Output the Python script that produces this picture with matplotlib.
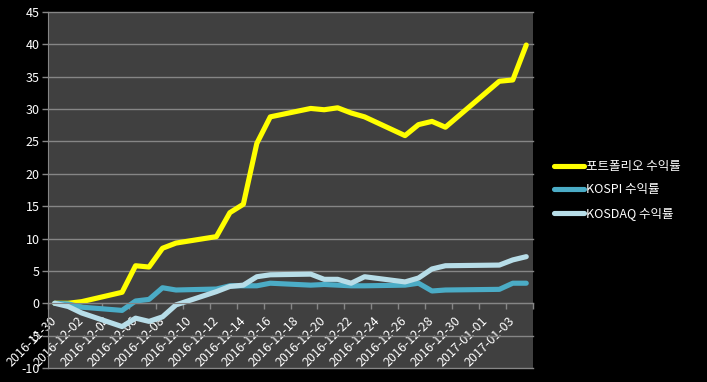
import numpy as np
import matplotlib
matplotlib.use('Agg')
import matplotlib.pyplot as plt
from datetime import datetime, timedelta

plt.rcParams['font.family'] = ['Noto Sans CJK KR', 'DejaVu Sans']
plt.rcParams['axes.unicode_minus'] = False

# 데이터
dates = ['2016-11-30', '2016-12-01', '2016-12-02', '2016-12-05', '2016-12-06',
         '2016-12-07', '2016-12-08', '2016-12-09', '2016-12-12', '2016-12-13',
         '2016-12-14', '2016-12-15', '2016-12-16', '2016-12-19', '2016-12-20',
         '2016-12-21', '2016-12-22', '2016-12-23', '2016-12-26', '2016-12-27',
         '2016-12-28', '2016-12-29', '2017-01-02', '2017-01-03', '2017-01-04']
portfolio = [0, 0, 0.25, 1.7, 5.8, 5.6, 8.5, 9.3, 10.3, 14.0, 15.3, 24.7, 28.8,
             30.1, 29.9, 30.2, 29.4, 28.8, 25.9, 27.6, 28.1, 27.2, 34.3, 34.5, 39.9]
kospi = [0, -0.1, -0.6, -1.1, 0.35, 0.6, 2.4, 2.05, 2.2, 2.7, 2.7, 2.7, 3.1,
         2.8, 2.9, 2.8, 2.7, 2.7, 2.8, 3.1, 1.9, 2.05, 2.15, 3.1, 3.1]
kosdaq = [0, -0.5, -1.5, -3.6, -2.3, -2.8, -2.1, -0.25, 1.8, 2.6, 2.8, 4.1, 4.4,
          4.5, 3.7, 3.7, 3.1, 4.1, 3.3, 3.9, 5.3, 5.8, 5.9, 6.7, 7.2]
labels = ['포트폴리오 수익률', 'KOSPI 수익률', 'KOSDAQ 수익률']
colors = ['#ffff00', '#4bacc6', '#b7dde8']

x = [datetime.strptime(d, '%Y-%m-%d') for d in dates]

fig = plt.figure(figsize=(7.07, 3.82), dpi=100, facecolor='black')
ax = fig.add_axes([48/707, 1-368/382, (533-48)/707, (368-12)/382])
ax.set_facecolor('#404040')

grid_c = '#868686'
# 축 위치 먼저 (set_position 하면 tick 이 초기화됨)
ax.spines['bottom'].set_position(('data', 0))
ax.spines['bottom'].set_color(grid_c)
ax.spines['left'].set_color(grid_c)
ax.spines['top'].set_visible(False)
ax.spines['right'].set_visible(False)

for ys, lab, c in zip([portfolio, kospi, kosdaq], labels, colors):
    ax.plot(x, ys, color=c, lw=3.7, label=lab,
            solid_capstyle='round', solid_joinstyle='round')

# y축
ax.set_ylim(-10, 45)
ax.set_yticks(np.arange(-10, 46, 5))
ax.yaxis.grid(True, color=grid_c, lw=1)
ax.set_axisbelow(True)
ax.tick_params(axis='y', colors=grid_c, labelcolor='white', labelsize=9,
               length=4, width=1, pad=2)
for g in ax.yaxis.get_gridlines():
    g.set_clip_on(False)

# x축 (0 위치), 2일 간격 라벨
half = timedelta(hours=12)
ax.set_xlim(x[0] - half, x[-1] + half)
major = [x[0] + timedelta(days=2 * i) for i in range(18)]
minor = [m - half for m in major] + [x[-1] + half]
ax.set_xticks(major, labels=[m.strftime('%Y-%m-%d') for m in major])
ax.set_xticks(minor, minor=True)
ax.tick_params(axis='x', which='major', length=0, labelcolor='white',
               labelsize=9, pad=11, labelrotation=45)
ax.tick_params(axis='x', which='minor', length=4, width=1, colors=grid_c)
for t in ax.get_xticklabels():
    t.set_ha('right')
    t.set_va('center')
    t.set_rotation_mode('anchor')

leg = ax.legend(loc='center left', bbox_to_anchor=(1.02, 0.5), frameon=False,
                fontsize=9, handlelength=2.4, handletextpad=0.2, labelspacing=0.85)
for t in leg.get_texts():
    t.set_color('white')

fig.savefig('out.png', dpi=100, facecolor='black')
